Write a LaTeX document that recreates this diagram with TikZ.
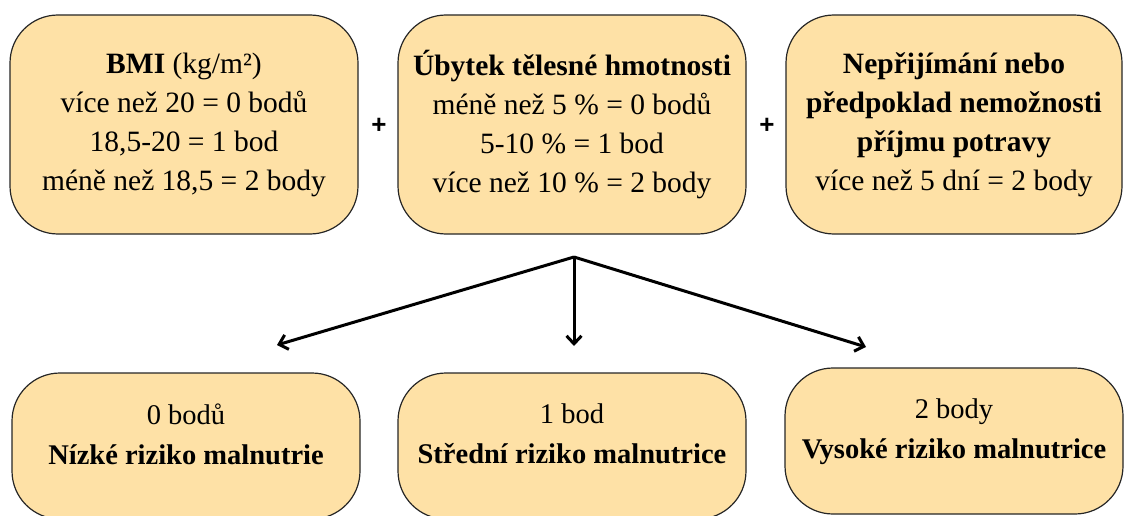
\documentclass[tikz,border=0pt]{standalone}
\usepackage{fontspec}
\setmainfont{Liberation Serif}
\newfontfamily\plusfont{Liberation Sans}
\usetikzlibrary{arrows.meta}
\definecolor{boxfill}{HTML}{FEE1A6}
\tikzset{
  scorebox/.style={draw=black!85,line width=1.2pt,fill=boxfill,rounded corners=48pt,
    minimum width=348pt,minimum height=219pt,align=center,inner sep=0pt,
    font=\fontsize{29.5}{39}\selectfont},
  riskbox/.style={scorebox,minimum height=146pt,text depth=24pt,
    font=\fontsize{28.5}{40}\selectfont},
  plus/.style={font=\plusfont\bfseries\fontsize{26}{26}\selectfont},
  branch/.style={line width=3pt,-{Straight Barb[length=8pt,width=15pt]}}
}
\begin{document}
\begin{tikzpicture}[x=1pt,y=-1pt]
  \path[use as bounding box] (0,0) rectangle (1124,516);
  \clip (0,0) rectangle (1124,516);
  % scoring criteria
  \node[scorebox] (bmi) at (184,124.5) {\textbf{BMI} (kg/m²)\\více než 20 = 0 bodů\\18,5-20 = 1 bod\\méně než 18,5 = 2 body};
  \node[scorebox] (weight) at (572,124.5) {\textbf{Úbytek tělesné hmotnosti}\\méně než 5 \% = 0 bodů\\5-10 \% = 1 bod\\více než 10 \% = 2 body};
  \node[scorebox,minimum width=336pt] (intake) at (954,124.5) {\textbf{Nepřijímání nebo}\\\textbf{předpoklad nemožnosti}\\\textbf{příjmu potravy}\\více než 5 dní = 2 body};
  \node[plus] (plusA) at (379,126) {+};
  \node[plus] (plusB) at (767,126) {+};
  % branches
  \coordinate (split) at (574,257);
  \coordinate (lowtip) at (277,345);
  \coordinate (midtip) at (574,346);
  \coordinate (hightip) at (866,347);
  \draw[branch] (split) -- (lowtip);
  \draw[branch] (split) -- (midtip);
  \draw[branch] (split) -- (hightip);
  % risk levels
  \node[riskbox] (low) at (186,446) {0 bodů\\\textbf{Nízké riziko malnutrie}};
  \node[riskbox] (mid) at (572,446) {1 bod\\\textbf{Střední riziko malnutrice}};
  \node[riskbox,minimum width=338pt] (high) at (954,441) {2 body\\\textbf{Vysoké riziko malnutrice}};
\end{tikzpicture}
\end{document}
